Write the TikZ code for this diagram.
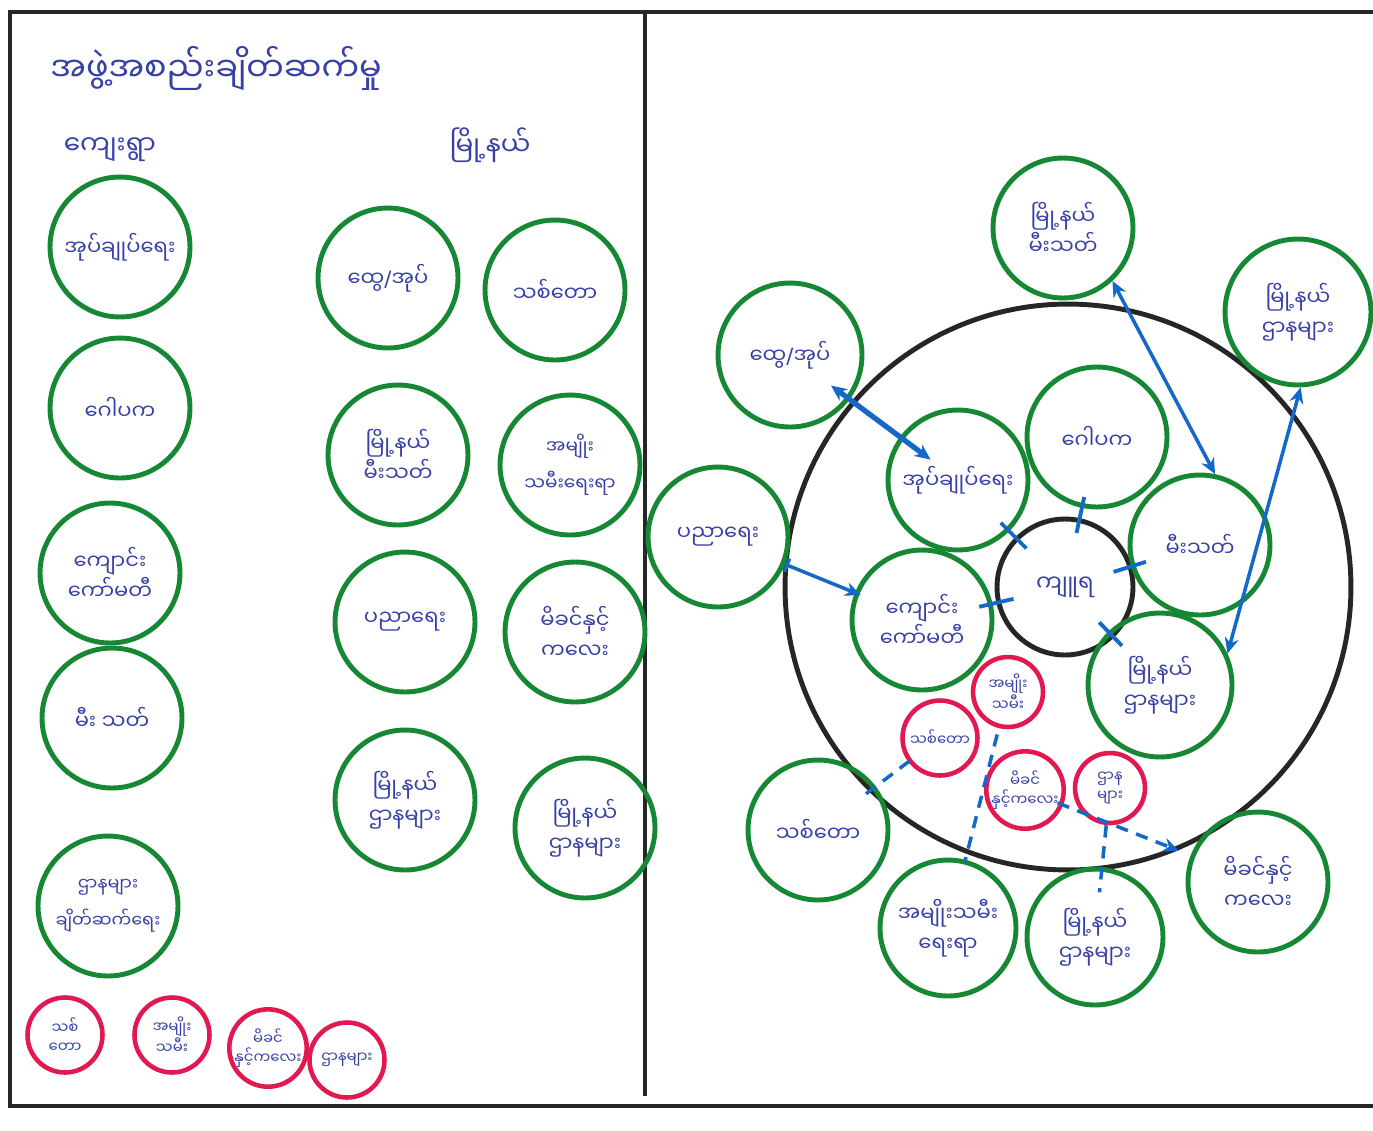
\documentclass[tikz,border=0pt]{standalone}
\usepackage{fontspec}
\newfontfamily\my[Script=Myanmar]{Noto Sans Myanmar UI}
\newfontfamily\lat{DejaVu Sans}
\usetikzlibrary{arrows.meta,calc}
\definecolor{grn}{RGB}{22,135,50}
\definecolor{rd}{RGB}{225,25,80}
\definecolor{ab}{RGB}{20,105,200}
\definecolor{tx}{RGB}{55,65,165}
\newcommand{\sls}{{\lat /}}
\begin{document}
\begin{tikzpicture}[x=0.02cm,y=-0.02cm,
 gc/.style={circle,draw=grn,line width=2.8pt,inner sep=0pt,minimum size=2.8cm,align=center,text=tx,font=\my\fontsize{12}{17}\selectfont},
 rc/.style={circle,draw=rd,line width=2.6pt,inner sep=0pt,minimum size=1.5cm,align=center,text=tx,font=\my\fontsize{8.5}{11}\selectfont},
 kc/.style={circle,draw=black!85,line width=2.8pt,inner sep=0pt},
 lbl/.style={text=tx,font=\my\fontsize{15}{18}\selectfont,inner sep=0pt},
 frame/.style={line width=2.4pt,black!85},
 darr/.style={draw=ab,line width=2pt,{Stealth[length=9pt,width=8pt]}-{Stealth[length=9pt,width=8pt]}},
 barr/.style={draw=ab,line width=2pt,{Bar[width=8pt]}-{Stealth[length=9pt,width=8pt]}},
 tk/.style={draw=ab,line width=2.2pt},
 dsh/.style={draw=ab,line width=2pt,dash pattern=on 7pt off 5pt}]
\useasboundingbox (0,0) rectangle (1373,1130);
% frame
\draw[frame] (8,12) -- (1373,12);
\draw[frame] (10,12) -- (10,1106);
\draw[frame] (8,1106) -- (1373,1106);
\draw[frame] (645,14) -- (645,1096);
% left panel headings
\node[lbl,anchor=west,font=\my\fontsize{19}{22}\selectfont] (title) at (50,68) {အဖွဲ့အစည်းချိတ်ဆက်မှု};
\node[lbl] (vill) at (110,150) {ကျေးရွာ};
\node[lbl] (town) at (490,145) {မြို့နယ်};
% village column
\node[gc] (lAup) at (120,247) {အုပ်ချုပ်ရေး};
\node[gc] (lGop) at (120,408) {ဂေါပက};
\node[gc] (lKyg) at (110,573) {ကျောင်း\\ကော်မတီ};
\node[gc] (lMee) at (112,718) {မီး သတ်};
\node[gc,font=\my\fontsize{10}{21}\selectfont] (lDep) at (108,906) {ဌာနများ\\ချိတ်ဆက်ရေး};
% township column
\node[gc] (tTvo) at (388,278) {ထွေ\sls အုပ်};
\node[gc] (tSit) at (555,290) {သစ်တော};
\node[gc] (tMee) at (398,455) {မြို့နယ်\\မီးသတ်};
\node[gc,font=\my\fontsize{10.5}{21}\selectfont] (tAmy) at (570,465) {အမျိုး\\သမီးရေးရာ};
\node[gc] (tPyn) at (405,622) {ပညာရေး};
\node[gc] (tMik) at (575,632) {မိခင်နှင့်\\ကလေး};
\node[gc] (tDep) at (405,800) {မြို့နယ်\\ဌာနများ};
\node[gc] (tDep2) at (585,828) {မြို့နယ်\\ဌာနများ};
% red legend
\node[rc] (lrSit) at (65,1035) {သစ်\\တော};
\node[rc] (lrAmy) at (172,1035) {အမျိုး\\သမီး};
\node[rc] (lrMik) at (268,1048) {မိခင်\\နှင့်ကလေး};
\node[rc] (lrDep) at (347,1060) {ဌာနများ};
% right panel
\node[kc,minimum size=11.32cm] (big) at (1068,587) {};
\node[kc,minimum size=2.72cm,text=tx,font=\my\fontsize{13}{16}\selectfont] (C) at (1065,587) {ကျူရ};
\node[gc] (iAup) at (958,480) {အုပ်ချုပ်ရေး};
\node[gc] (iGop) at (1097,437) {ဂေါပက};
\node[gc] (iMee) at (1200,545) {မီးသတ်};
\node[gc] (iKyg) at (922,620) {ကျောင်း\\ကော်မတီ};
\node[gc,minimum size=2.88cm] (iDep) at (1160,685) {မြို့နယ်\\ဌာနများ};
\node[rc,minimum size=1.4cm] (rAmy) at (1008,692) {အမျိုး\\သမီး};
\node[rc] (rSit) at (940,738) {သစ်တော};
\node[rc,minimum size=1.4cm] (rMik) at (1025,790) {မိခင်\\နှင့်ကလေး};
\node[rc,minimum size=1.4cm] (rDep) at (1110,788) {ဌာန\\များ};
\node[gc,minimum size=2.88cm] (oTvo) at (790,355) {ထွေ\sls အုပ်};
\node[gc] (oPyn) at (718,537) {ပညာရေး};
\node[gc] (oMee) at (1063,228) {မြို့နယ်\\မီးသတ်};
\node[gc,minimum size=2.92cm] (oDep) at (1298,312) {မြို့နယ်\\ဌာနများ};
\node[gc] (oSit) at (818,830) {သစ်တော};
\node[gc,minimum size=2.72cm] (oAmy) at (948,928) {အမျိုးသမီး\\ရေးရာ};
\node[gc,minimum size=2.72cm] (oDep2) at (1095,937) {မြို့နယ်\\ဌာနများ};
\node[gc] (oMik) at (1258,882) {မိခင်နှင့်\\ကလေး};
% solid links
\draw[darr,line width=3pt] ($(oTvo.center)!0.244!(iAup.center)$) -- ($(oTvo.center)!0.837!(iAup.center)$);
\draw[barr] ($(oPyn.center)!0.33!(iKyg.center)$) -- ($(oPyn.center)!0.70!(iKyg.center)$);
\draw[darr] (oMee.-47) -- (iMee.78);
\draw[darr] (oDep.-88) -- (iDep.25);
% ticks around centre
\foreach \n in {iAup,iGop,iMee,iDep,iKyg}
  \draw[tk] ($(C.center)!0.36!(\n.center)$) -- ($(C.center)!0.6!(\n.center)$);
% dashed links
\draw[dsh] ($(rSit.center)!0.25!(oSit.center)$) -- ($(rSit.center)!0.62!(oSit.center)$);
\draw[dsh] ($(rAmy.center)!0.18!(oAmy.center)$) -- ($(rAmy.center)!0.72!(oAmy.center)$);
\draw[dsh] ($(rDep.center)!0.25!(oDep2.center)$) -- ($(rDep.center)!0.7!(oDep2.center)$);
\draw[dsh,-{Stealth[length=9pt,width=8pt]}] ($(rMik.center)!0.14!(oMik.center)$) -- ($(rMik.center)!0.66!(oMik.center)$);
\end{tikzpicture}
\end{document}
